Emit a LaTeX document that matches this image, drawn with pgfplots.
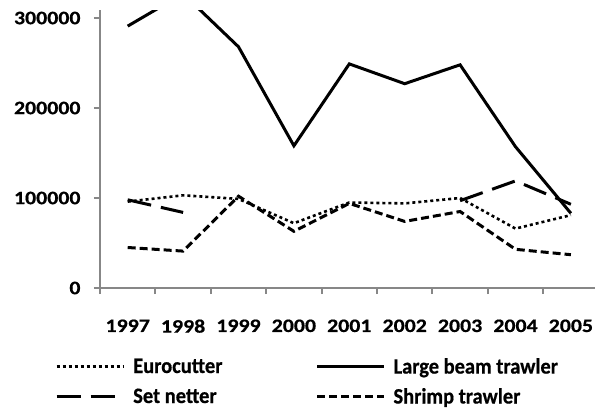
\documentclass[border=0pt]{standalone}
\usepackage{fontspec}
\setmainfont{Carlito}
\newfontfamily\tickfont{Carlito}[BoldFeatures={FakeStretch=1.15,FakeBold=0.6}]
\newfontfamily\legfont{Carlito}[BoldFeatures={FakeStretch=0.93,FakeBold=0.6}]
\usepackage{pgfplots}
\pgfplotsset{compat=1.18}
\definecolor{axgray}{HTML}{878787}
\begin{document}
\begin{tikzpicture}
\path[use as bounding box] (0,0) rectangle (595bp,-410bp);
\begin{axis}[
  at={(100bp,-288bp)}, anchor=south west,
  scale only axis, width=498.6bp, height=278bp,
  xmin=0.5, xmax=9.5, ymin=0, ymax=308900,
  axis x line*=bottom, axis y line*=left,
  axis line style={axgray, line width=2.6bp, -},
  every tick/.style={axgray, line width=2bp},
  tick align=outside, major tick length=6bp,
  xtick={0.5,1.5,...,9.5},
  x tick label as interval,
  xticklabels={1997,1998,1999,2000,2001,2002,2003,2004,2005},
  ytick={0,100000,200000,300000},
  yticklabels={0,100000,200000,300000},
  scaled y ticks=false,
  font=\fontsize{19bp}{22bp}\tickfont\bfseries,
  tick label style={font=\fontsize{19bp}{22bp}\tickfont\bfseries, black},
  xticklabel style={yshift=-22bp},
  yticklabel style={xshift=-10bp},
  unbounded coords=jump,
  legend columns=2,
  legend cell align=left,
  legend image code/.code={\draw[#1] (0bp,0bp) -- (67bp,0bp);},
  legend style={draw=none, fill=none, inner sep=0pt,
    at={(axis description cs:-0.0902,-0.2516)}, anchor=north west,
    font=\fontsize{22bp}{25bp}\legfont\bfseries,
    nodes={inner sep=0pt},
    row sep=13bp,
    /tikz/column 1/.style={column sep=8bp},
    /tikz/column 2/.style={column sep=93bp},
    /tikz/column 3/.style={column sep=8bp}},
]
\addplot[black, line width=2.6bp, dash pattern=on 3bp off 3bp] coordinates {
 (1,96000) (2,103000) (3,99000) (4,72000) (5,95000) (6,94000) (7,100000) (8,66000) (9,81000)};
\addlegendentry{Eurocutter}
\addplot[black, line width=3bp] coordinates {
 (1,291000) (2,327000) (3,268000) (4,158000) (5,249000) (6,227000) (7,248000) (8,157000) (9,83000)};
\addlegendentry{Large beam trawler}
\addplot[black, line width=3bp, dash pattern=on 24bp off 10bp] coordinates {
 (1,98000) (2,84000) (3,nan) (4,nan) (5,nan) (6,nan) (7,97000) (8,119000) (9,93000)};
\addlegendentry{Set netter}
\addplot[black, line width=3bp, dash pattern=on 8bp off 4bp] coordinates {
 (1,45000) (2,41000) (3,102000) (4,63000) (5,94000) (6,74000) (7,85000) (8,43000) (9,37000)};
\addlegendentry{Shrimp trawler}
\end{axis}
\end{tikzpicture}
\end{document}
